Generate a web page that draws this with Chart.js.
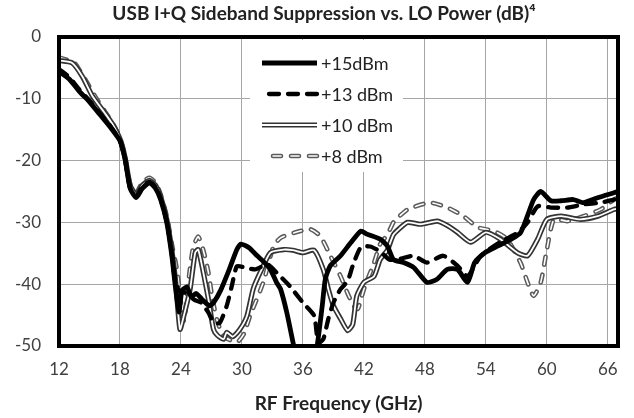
<!DOCTYPE html>
<html>
<head>
<meta charset="utf-8">
<script src="https://cdn.jsdelivr.net/npm/chart.js@4.4.0/dist/chart.umd.min.js"></script>
<style>
  html, body { margin: 0; padding: 0; background: #fff; }
</style>
</head>
<body>
<canvas id="sbChart" width="634" height="418"></canvas>
<script>
// series labels
const seriesLabels = ['+15dBm', '+13 dBm', '+10 dBm', '+8 dBm'];

// x ticks (GHz) and y range (dB)
const xTickVals = [12, 18, 24, 30, 36, 42, 48, 54, 60, 66];
const yTickVals = [0, -10, -20, -30, -40, -50];

// +15 dBm
const f15 = [12, 13, 14, 15, 16, 17, 18, 18.5, 19, 19.6, 20.2, 20.9, 21.5, 22, 22.6, 23.1, 23.4, 23.8, 24.1, 24.6, 25, 25.5, 26.1, 26.8, 27.2, 27.9, 28.8, 29.5, 29.9, 30.7, 31.5, 32.1, 32.8, 33.4, 33.8, 34.4, 35.1, 35.5, 37, 37.4, 37.9, 38.2, 38.7, 39.7, 40.7, 41.7, 42.3, 43.6, 44.3, 44.9, 45.9, 46.9, 48.2, 49.2, 50.2, 51.2, 52.2, 52.9, 53.9, 55.2, 56.5, 57.4, 58.1, 58.7, 59.4, 60.4, 61.4, 62.6, 63.6, 65, 66.6, 67];
const s15 = [-5.6, -6.8, -8.8, -10.5, -12.5, -14.5, -16.8, -19.8, -24.5, -26, -24.5, -23.6, -24.5, -26.3, -30, -35.4, -39.7, -44.5, -41, -40.5, -42, -41.5, -42.5, -43.5, -43, -41, -37.4, -34.4, -33.5, -34.1, -35.4, -36.3, -37.6, -39.7, -40.8, -44.5, -50, -53, -53, -50, -43.5, -39.2, -37, -35.4, -33.3, -31.4, -31.9, -32.7, -33.8, -36, -36.5, -37.3, -39.7, -39.2, -37.6, -37.6, -39.7, -36.5, -34.9, -33.8, -32.7, -31.7, -28.9, -26.3, -25, -26.5, -26.5, -26.3, -26.8, -26, -25.2, -25];

// +13 dBm
const f13 = [12, 13, 14, 15, 16, 17, 18, 18.5, 19, 19.6, 20.2, 20.9, 21.5, 22, 22.6, 23.1, 23.4, 23.8, 24.6, 25.3, 26, 26.7, 27.2, 27.8, 28.5, 29, 29.5, 30.3, 31.3, 32.5, 33.4, 34.7, 36, 37.1, 37.5, 38, 38.5, 39, 39.7, 40.4, 40.9, 41.7, 42.6, 43.6, 44.5, 45.3, 46.9, 48.2, 49.8, 51.2, 52.2, 53.5, 55.4, 57.1, 58.1, 59.1, 60.4, 62, 63.6, 65.3, 66.6, 67];
const s13 = [-5.2, -6.5, -8.5, -10.3, -12.3, -14.3, -16.8, -19.8, -24.5, -25.8, -24.2, -23.4, -24.3, -26.2, -29.8, -35, -39, -41, -41.5, -42.5, -43, -44.6, -46.1, -46.3, -43.5, -40.3, -37.1, -37.3, -37.6, -36.8, -38.1, -40.3, -43, -45.1, -49.5, -48.9, -45.6, -43, -40.8, -39.5, -37, -34, -33.9, -34.7, -36, -36, -35.4, -36.5, -35.4, -37, -38.7, -35.4, -33.2, -31.7, -30, -27.4, -27.6, -27.6, -27.1, -26.8, -26.3, -26.2];

// +10 dBm
const f10 = [12, 13.3, 14.3, 15.3, 16.5, 17.3, 18, 18.5, 19, 19.6, 20.2, 20.9, 21.5, 22, 22.6, 23.1, 23.5, 23.9, 24.3, 24.9, 25.4, 25.7, 26.2, 26.7, 27.2, 27.6, 28.2, 28.5, 29.1, 29.8, 30.5, 31.1, 31.8, 32.8, 34.1, 35, 36, 37.1, 38, 38.5, 39, 39.7, 40.4, 40.9, 41.3, 42, 43, 43.6, 44.3, 44.9, 45.5, 46.3, 47.6, 49.2, 50.2, 51.2, 52.5, 54, 55.4, 57.1, 58.1, 59.1, 60, 61.4, 63.3, 65, 66.6, 67];
const s10 = [-3.8, -4.2, -6.4, -9.6, -12.3, -14.2, -16.5, -19.5, -24, -25.5, -24, -23.2, -24, -25.8, -29.5, -34.5, -40, -47.3, -45, -40.8, -34.9, -34.4, -38.1, -42.4, -47.3, -48.3, -48.9, -47.8, -48.5, -47.3, -45.1, -40.8, -38.1, -34.9, -34.4, -34.5, -34.9, -34.5, -37.6, -40.8, -43.5, -45.6, -47.5, -46.5, -41.9, -39.7, -38.7, -36, -34.5, -32, -31, -30, -30.3, -29.8, -30.5, -31.6, -33.2, -31.6, -32.7, -34.9, -35.4, -32.7, -29.5, -29, -29.5, -29, -27.9, -27.8];

// +8 dBm
const f8 = [12, 13, 13.6, 14.7, 15.7, 16.5, 17.3, 18, 18.5, 19, 19.6, 20.2, 20.9, 21.5, 22, 22.6, 23.1, 23.6, 24, 24.3, 24.7, 25.2, 25.7, 26.2, 26.7, 27.1, 27.6, 28.2, 29.5, 30.2, 30.8, 32.1, 33.1, 33.8, 35.1, 36.7, 37.7, 38.7, 39.7, 40.4, 41, 41.4, 42, 43, 43.6, 44.3, 44.9, 45.3, 46.3, 48.5, 50.2, 51.8, 53.2, 54.8, 56.1, 57.4, 58.1, 58.7, 59.4, 60, 60.7, 62, 63.6, 65.3, 66.6, 67];
const s8 = [-3.3, -3.8, -4.3, -7.2, -10, -12, -14, -16.3, -19.3, -23.8, -25.2, -23.5, -22.8, -23.6, -25.5, -29, -33.5, -37.6, -43, -46, -40, -34, -32.3, -34.5, -38.1, -42.4, -46.1, -48.4, -49.4, -48, -45.1, -39.7, -33.9, -32.5, -31.7, -31.1, -32.2, -35.4, -38.7, -41.5, -43.5, -44, -40.8, -36.5, -33.5, -32, -30, -29.3, -27.9, -26.8, -27.6, -29, -30.8, -31.4, -32.7, -36.5, -39.7, -41.9, -39.7, -34.4, -29.5, -29.8, -29, -27.9, -26.3, -26];

const pts = (f, s) => f.map((x, i) => ({ x: x, y: s[i] }));

function line(group, f, s, color, width, dash, order) {
  return {
    label: seriesLabels[group],
    group: group,
    data: pts(f, s),
    borderColor: color,
    borderWidth: width,
    borderDash: dash || [],
    borderCapStyle: dash ? 'round' : 'butt',
    borderJoinStyle: 'round',
    pointRadius: 0,
    tension: 0.2,
    fill: false,
    order: order
  };
}

const datasets = [
  line(0, f15, s15, '#000', 4.8, null, 0),
  line(1, f13, s13, '#000', 4.3, [10, 9], 1),
  line(2, f10, s10, '#333', 5.2, null, 3),
  line(2, f10, s10, '#fff', 1.8, null, 2),
  line(3, f8, s8, '#5a5a5a', 4.6, [8, 10], 5),
  line(3, f8, s8, '#fff', 1.6, [8, 10], 4)
];

// legend box and heavy plot frame
const framePlugin = {
  id: 'framePlugin',
  afterDatasetsDraw(chart) {
    const { ctx, chartArea: a } = chart;
    ctx.save();
    const bx = a.left + 191, by = a.top + 3;
    ctx.fillStyle = '#fff';
    ctx.fillRect(bx, by, 153, 132);

    seriesLabels.forEach((lab, g) => {
      const y = a.top + 26 + g * 31;
      const x0 = a.left + 203, x1 = a.left + 258;
      const group = chart.data.datasets.filter(d => d.group === g).sort((p, q) => q.order - p.order);
      group.forEach(d => {
        let start = x0;
        if (d.borderDash.length) {
          // make the dash pattern end cleanly at the text
          const period = d.borderDash[0] + d.borderDash[1];
          const k = Math.floor((x1 - x0 + d.borderDash[1]) / period);
          start = x1 - (k * period - d.borderDash[1]);
        }
        ctx.beginPath();
        ctx.strokeStyle = d.borderColor;
        ctx.lineWidth = d.borderWidth;
        ctx.setLineDash(d.borderDash);
        ctx.lineCap = d.borderCapStyle;
        ctx.moveTo(start, y);
        ctx.lineTo(x1, y);
        ctx.stroke();
      });
      ctx.setLineDash([]);
      ctx.fillStyle = '#222';
      ctx.font = '18px Lato';
      ctx.textBaseline = 'middle';
      ctx.textAlign = 'left';
      ctx.fillText(lab, x1 + 4, y + 1);
    });

    ctx.strokeStyle = '#000';
    ctx.lineWidth = 4;
    ctx.setLineDash([]);
    ctx.strokeRect(a.left, a.top, a.right - a.left, a.bottom - a.top);
    ctx.restore();
  }
};

Chart.defaults.font.family = 'Lato';

new Chart(document.getElementById('sbChart').getContext('2d'), {
  type: 'line',
  data: { datasets: datasets },
  options: {
    responsive: false,
    animation: false,
    layout: { padding: { left: 14, right: 0, top: 2, bottom: 3 } },
    plugins: {
      legend: { display: false },
      tooltip: { enabled: false },
      title: {
        display: true,
        text: 'USB I+Q Sideband Suppression vs. LO Power (dB)\u2074',
        color: '#222',
        font: { size: 19, weight: 'bold' },
        padding: { top: 0, bottom: 12.2 }
      }
    },
    scales: {
      x: {
        type: 'linear',
        min: xTickVals[0],
        max: 67,
        bounds: 'data',
        afterBuildTicks: s => { s.ticks = xTickVals.map(v => ({ value: v })); },
        afterFit: s => { s.height = 69; },
        ticks: { color: '#404040', font: { size: 17 }, padding: 13, maxRotation: 0 },
        grid: { color: '#a6a6a6', lineWidth: 1, drawTicks: false },
        border: { display: false },
        title: {
          display: true,
          text: 'RF Frequency (GHz)',
          color: '#222',
          font: { size: 19, weight: 'bold' },
          padding: { top: 0, bottom: 0 }
        }
      },
      y: {
        min: yTickVals[yTickVals.length - 1],
        max: yTickVals[0],
        afterBuildTicks: s => { s.ticks = yTickVals.map(v => ({ value: v })); },
        afterFit: s => { s.width = 45; },
        ticks: { color: '#404040', font: { size: 17 }, padding: 18 },
        grid: { color: '#a6a6a6', lineWidth: 1, drawTicks: false },
        border: { display: false }
      },
      // empty right-hand margin strip
      yRight: {
        position: 'right',
        afterFit: s => { s.width = 16; },
        ticks: { display: false },
        grid: { display: false, drawTicks: false },
        border: { display: false }
      }
    }
  },
  plugins: [framePlugin]
});
</script>
</body>
</html>
